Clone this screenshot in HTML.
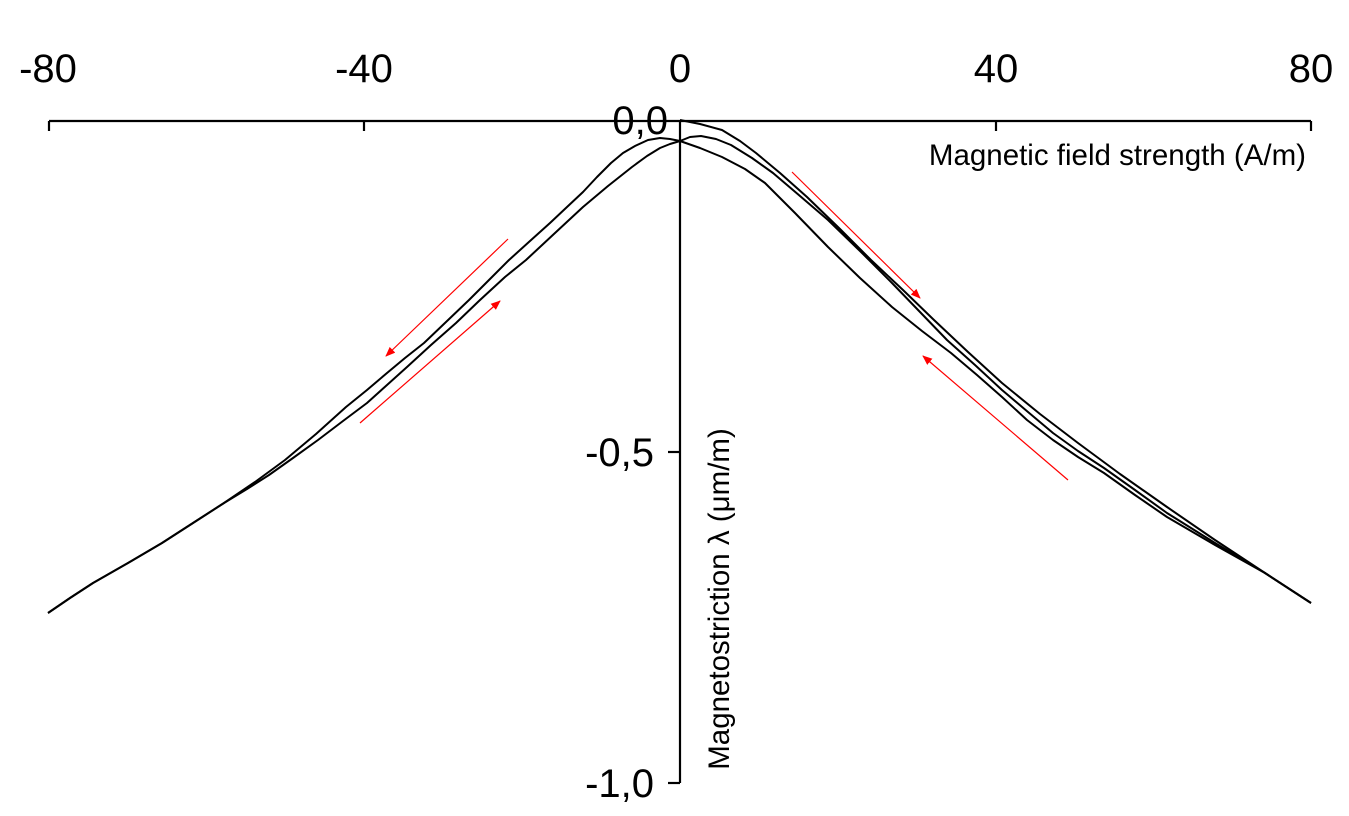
<!DOCTYPE html>
<html><head><meta charset="utf-8"><style>
html,body{margin:0;padding:0;background:#fff;}
svg{display:block;}
text{font-family:"Liberation Sans",Arial,sans-serif;fill:#000;}
</style></head><body>
<svg width="1349" height="816" viewBox="0 0 1349 816" xmlns="http://www.w3.org/2000/svg">
<defs>
<marker id="ah" markerWidth="10" markerHeight="8" refX="9" refY="4" orient="auto" markerUnits="userSpaceOnUse">
<path d="M0,0 L10,4 L0,8 z" fill="#ff0000"/>
</marker>
</defs>
<g stroke="#000" stroke-width="2.2" fill="none">
<line x1="49" y1="121" x2="1311" y2="121"/>
<line x1="680" y1="121" x2="680" y2="783"/>
<line x1="49" y1="121" x2="49" y2="131"/>
<line x1="364" y1="121" x2="364" y2="131"/>
<line x1="996" y1="121" x2="996" y2="131"/>
<line x1="1311" y1="121" x2="1311" y2="131"/>
<line x1="668" y1="452" x2="680" y2="452"/>
<line x1="668" y1="783" x2="680" y2="783"/>
</g>
<g font-size="40" text-anchor="middle">
<text x="48" y="82">-80</text>
<text x="364" y="82">-40</text>
<text x="680" y="82">0</text>
<text x="996" y="82">40</text>
<text x="1311" y="82">80</text>
</g>
<g font-size="40" text-anchor="end">
<text x="668" y="134">0,0</text>
<text x="654" y="466">-0,5</text>
<text x="654" y="797">-1,0</text>
</g>
<text x="1306" y="165" font-size="29.5" text-anchor="end">Magnetic field strength (A/m)</text>
<text transform="translate(729,599) rotate(-90)" font-size="29.5" text-anchor="middle">Magnetostriction λ (μm/m)</text>
<g stroke="#000" stroke-width="2" fill="none" stroke-linejoin="round">
<polyline points="680,120 700,124 722,130 740,141 756,153 780,173 807,197 840,229 871,260 903,290 934,320 968,352 1002,383 1040,414 1078,443 1120,474 1167,507 1215,540 1265,573 1311,603"/>
<polyline points="48,613 70,598 93,583 128,563 162,543 193,523 224,503 255,482 285,460 316,434 346,407 367,390 387,373 405,358 424,343 446,322 469,300 489,280 509,260 530,241 550,223 567,207 583,192 597,177 611,163 623,153 635,146 648,140 660,138 670,139 680,141 700,148 722,157 745,169 765,183 795,213 828,247 860,278 892,307 922,331 951,353 977,375 1002,397 1027,420 1053,440 1078,457 1104,473 1135,495 1167,517 1215,545 1265,573 1311,603"/>
<polyline points="48,613 70,598 93,583 128,563 162,543 193,523 224,503 247,489 269,475 293,458 318,440 343,421 367,403 387,385 407,367 431,345 456,323 480,300 505,277 526,260 555,233 583,207 608,186 632,167 647,156 660,148 670,144 680,141 690,137 701,136 716,139 731,145 752,158 773,173 800,196 828,220 860,251 892,283 920,312 947,340 975,365 1002,390 1028,412 1053,433 1078,451 1104,468 1135,490 1167,513 1215,543 1265,573 1311,603"/>
</g>
<g stroke="#ff0000" stroke-width="1.2" fill="none">
<line x1="508" y1="239" x2="386" y2="356" marker-end="url(#ah)"/>
<line x1="360" y1="423" x2="500" y2="301" marker-end="url(#ah)"/>
<line x1="792" y1="172" x2="920" y2="298" marker-end="url(#ah)"/>
<line x1="1068" y1="480" x2="923" y2="356" marker-end="url(#ah)"/>
</g>
</svg>
</body></html>
